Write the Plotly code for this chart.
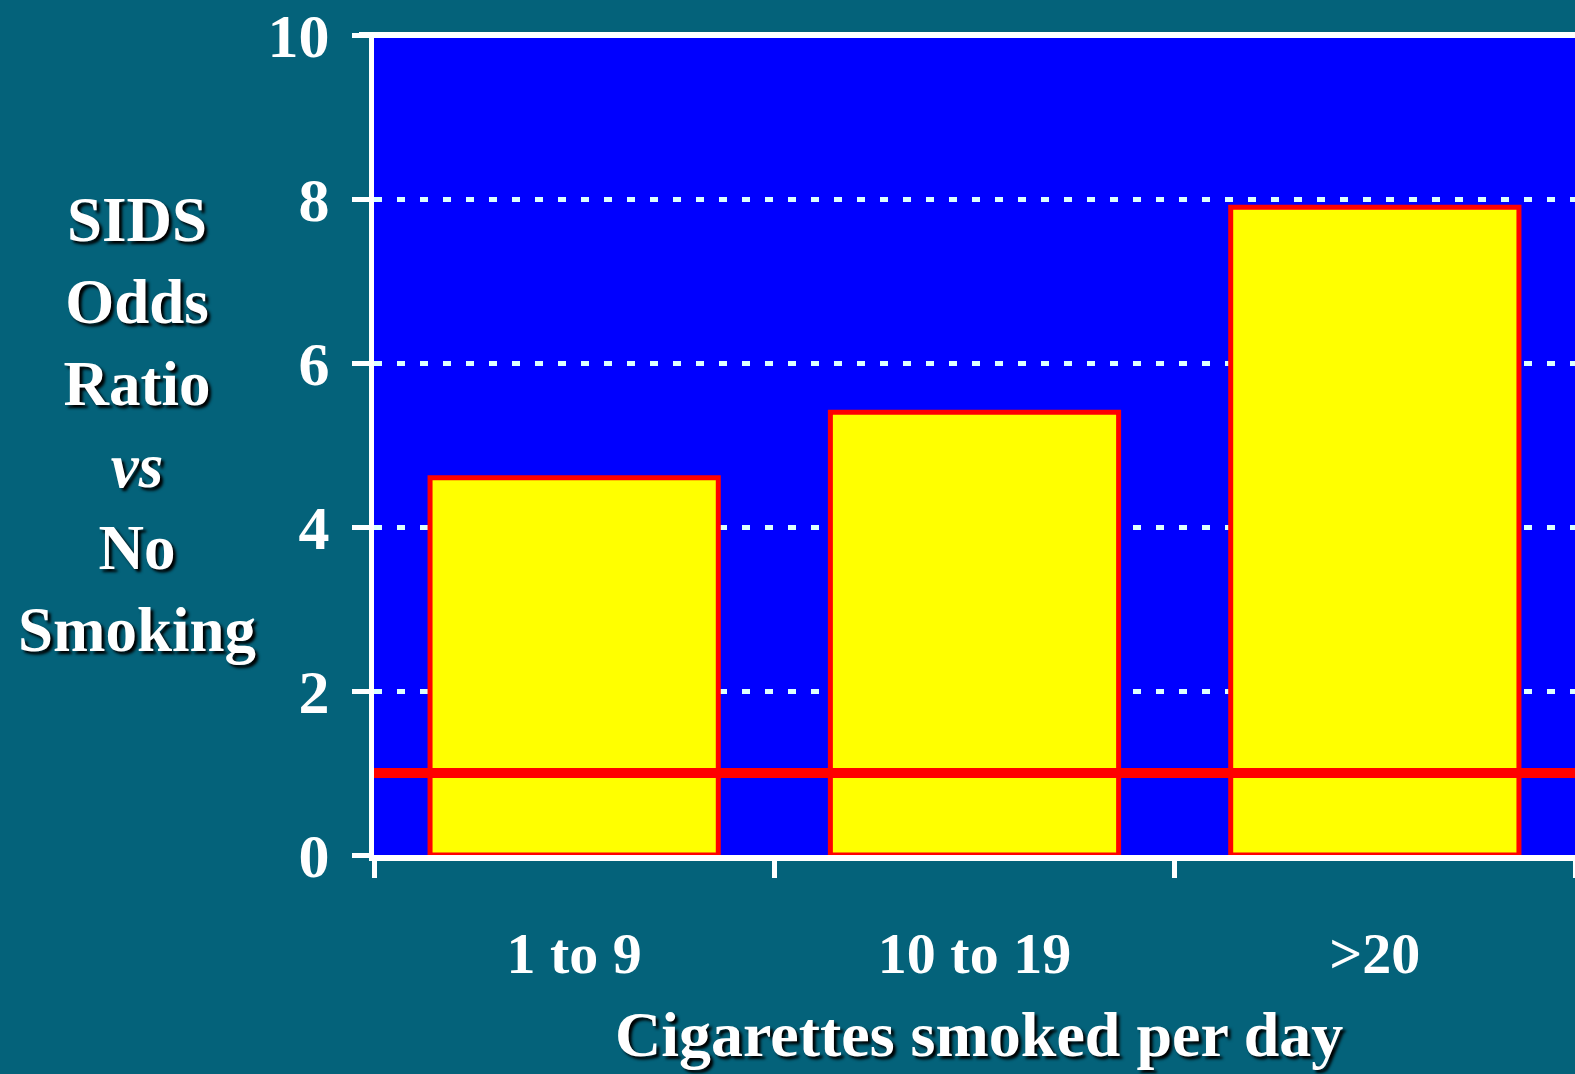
import plotly.graph_objects as go

categories = ["1 to 9", "10 to 19", ">20"]
odds_ratio = [4.6, 5.4, 7.9]
reference_level = 1.0
y_ticks = [0, 2, 4, 6, 8, 10]
y_title_lines = ["SIDS", "Odds", "Ratio", "<i>vs</i>", "No", "Smoking"]
x_title = "Cigarettes smoked per day"

TEAL = "#04627A"
FONT = "Liberation Serif"
W, H = 1575, 1074
ML, MT, MB, MR = 374, 35, 219, 0
plot_h = H - MT - MB
plot_w = W - ML - MR

fig = go.Figure()
fig.add_trace(go.Bar(
    x=categories, y=odds_ratio, width=0.72,
    marker=dict(color="#FFFF00", line=dict(color="#FF0000", width=5)),
    hoverinfo="skip",
))

# reference line at odds ratio 1
fig.add_shape(type="line", xref="paper", yref="y", x0=0, x1=1,
              y0=reference_level, y1=reference_level,
              line=dict(color="#FF0000", width=10), layer="above")
# solid top line at the top of the axis (y = 10)
fig.add_shape(type="line", xref="paper", yref="paper", x0=-15 / plot_w, x1=1,
              y0=1, y1=1,
              line=dict(color="#FFFFFF", width=6), layer="above")

shadow = "3px 3px 3px #000000"
fig.add_annotation(
    text="<br>".join(y_title_lines), xref="paper", yref="paper",
    x=(137 - ML) / plot_w, y=(855 - 425) / plot_h,
    xanchor="center", yanchor="middle", showarrow=False, align="center",
    font=dict(family=FONT, size=63, color="white", weight="bold", shadow=shadow),
)
fig.add_annotation(
    text=x_title, xref="paper", yref="paper",
    x=(979 - ML) / plot_w, y=-(1034 - 855) / plot_h,
    xanchor="center", yanchor="middle", showarrow=False,
    font=dict(family=FONT, size=64, color="white", weight="bold", shadow=shadow),
)

fig.update_layout(
    width=W, height=H,
    margin=dict(l=ML, r=MR, t=MT, b=MB, pad=0),
    paper_bgcolor=TEAL, plot_bgcolor="#0000FF",
    showlegend=False, bargap=0.28,
    xaxis=dict(
        type="category", range=[-0.5, 2.5], tickson="boundaries",
        showgrid=False, zeroline=False,
        showline=True, linecolor="white", linewidth=6,
        ticks="outside", ticklen=17, tickwidth=5, tickcolor="white",
        ticklabelstandoff=42,
        tickfont=dict(family=FONT, size=58, color="white", weight="bold"),
    ),
    yaxis=dict(
        range=[0, 10], tickvals=y_ticks, ticktext=[str(v) for v in y_ticks],
        showgrid=True, gridcolor="#DDFFFF", gridwidth=5, griddash="8px,15px",
        zeroline=False,
        showline=True, linecolor="white", linewidth=5,
        ticks="outside", ticklen=17, tickwidth=5, tickcolor="white",
        ticklabelstandoff=10,
        tickfont=dict(family=FONT, size=62, color="white", weight="bold"),
    ),
)

fig.write_html(
    "out.html",
    config={"displayModeBar": False},
    post_script="document.body.style.margin='0';document.body.style.overflow='hidden';",
)
